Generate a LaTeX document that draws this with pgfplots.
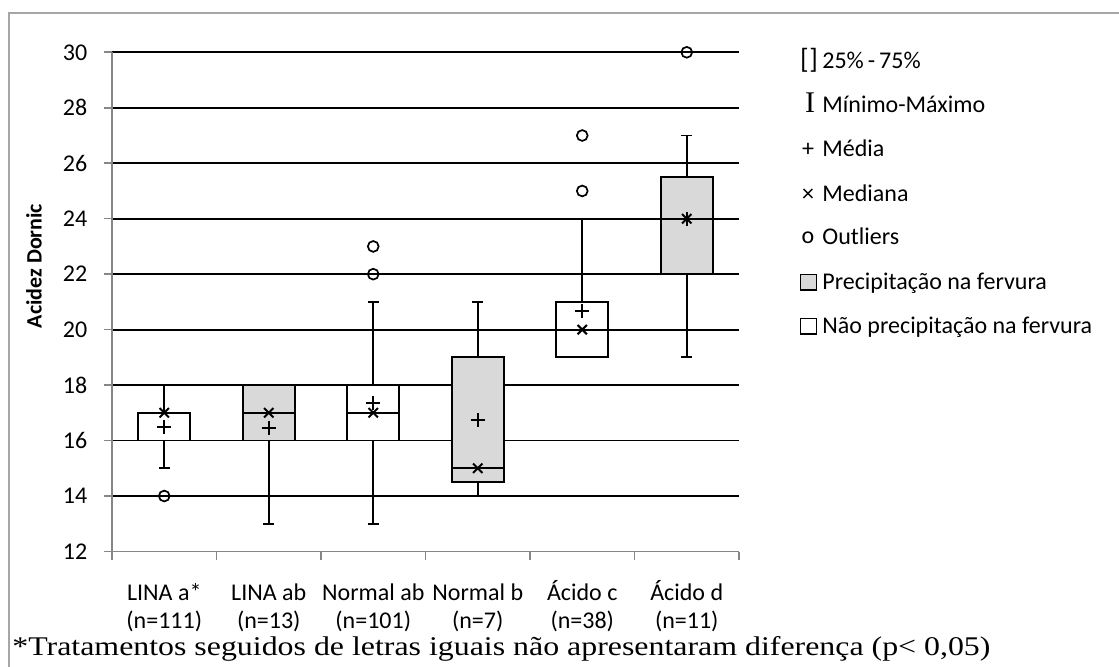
\documentclass[border=0pt]{standalone}
\usepackage{fontspec}
\setmainfont{Carlito}
\newfontfamily\timesf{Liberation Serif}
\usepackage{pgfplots}
\pgfplotsset{compat=1.18}
\definecolor{boxgray}{RGB}{217,217,217}
\definecolor{axgray}{RGB}{134,134,134}
\definecolor{framegray}{RGB}{166,166,166}
\begin{document}
\begin{tikzpicture}
\path[use as bounding box] (0,0) rectangle (559.5pt,-333.5pt);
\draw[framegray, line width=1pt] (4.25pt,-345pt) -- (4.25pt,-6.75pt) -- (570pt,-6.75pt);
\begin{axis}[
  at={(56pt,-275.75pt)}, anchor=south west,
  scale only axis, width=313.5pt, height=249.6pt,
  xmin=-0.5, xmax=5.5, ymin=12, ymax=30,
  axis x line*=bottom, axis y line*=left,
  axis line style={axgray, line width=0.8pt},
  ytick={14,16,...,30},
  extra y ticks={12},
  extra y tick style={grid=none},
  ymajorgrids, grid style={black, line width=0.9pt},
  tick align=outside,
  major tick length=4.2pt,
  tick style={axgray, line width=0.8pt},
  xtick={-0.5,0.5,...,5.5},
  xticklabels={,,,,,,},
  extra x ticks={0,1,2,3,4,5},
  extra x tick labels={{\strut LINA a*\\(n=111)},{\strut LINA ab\\(n=13)},{\strut Normal ab\\(n=101)},{\strut Normal b\\(n=7)},{\strut Ácido c\\(n=38)},{\strut Ácido d\\(n=11)}},
  extra x tick style={major tick length=0pt, tick style={draw=none}},
  /pgf/number format/assume math mode=true,
  yticklabel style={font=\fontsize{12}{14}\selectfont, inner sep=0pt, xshift=-8pt},
  xticklabel style={font=\fontsize{12}{14}\selectfont, align=center, inner sep=0pt, anchor=north, yshift=-14.3pt},
  unbounded coords=jump,
  clip=false,
]
% whiskers and caps
\addplot[black, line width=0.9pt] coordinates {
  (0,17) (0,18) (nan,nan) (-0.053,18) (0.053,18) (nan,nan)
  (0,15) (0,16) (nan,nan) (-0.053,15) (0.053,15) (nan,nan)
  (1,13) (1,16) (nan,nan) (0.947,13) (1.053,13) (nan,nan)
  (2,18) (2,21) (nan,nan) (1.947,21) (2.053,21) (nan,nan)
  (2,13) (2,16) (nan,nan) (1.947,13) (2.053,13) (nan,nan)
  (3,19) (3,21) (nan,nan) (2.947,21) (3.053,21) (nan,nan)
  (3,14) (3,14.5) (nan,nan) (2.947,14) (3.053,14) (nan,nan)
  (4,21) (4,24) (nan,nan) (3.947,24) (4.053,24) (nan,nan)
  (5,25.5) (5,27) (nan,nan) (4.947,27) (5.053,27) (nan,nan)
  (5,19) (5,22) (nan,nan) (4.947,19) (5.053,19)
};
% boxes: no precipitation (white)
\addplot[draw=black, fill=white, line width=0.9pt] coordinates {(-0.25,16) (0.25,16) (0.25,17) (-0.25,17)} -- cycle;
\addplot[draw=black, fill=white, line width=0.9pt] coordinates {(1.75,16) (2.25,16) (2.25,18) (1.75,18)} -- cycle;
\addplot[draw=black, fill=white, line width=0.9pt] coordinates {(3.75,19) (4.25,19) (4.25,21) (3.75,21)} -- cycle;
% boxes: precipitation (gray)
\addplot[draw=black, fill=boxgray, line width=0.9pt] coordinates {(0.75,16) (1.25,16) (1.25,18) (0.75,18)} -- cycle;
\addplot[draw=black, fill=boxgray, line width=0.9pt] coordinates {(2.75,14.5) (3.25,14.5) (3.25,19) (2.75,19)} -- cycle;
\addplot[draw=black, fill=boxgray, line width=0.9pt] coordinates {(4.75,22) (5.25,22) (5.25,25.5) (4.75,25.5)} -- cycle;
% median lines
\addplot[black, line width=0.9pt] coordinates {
  (-0.25,17) (0.25,17) (nan,nan) (0.75,17) (1.25,17) (nan,nan)
  (1.75,17) (2.25,17) (nan,nan) (2.75,15) (3.25,15) (nan,nan)
  (3.75,20) (4.25,20) (nan,nan) (4.75,24) (5.25,24)
};
% outliers
\addplot[only marks, mark=o, mark size=2.7pt, black, mark options={line width=0.85pt}]
  coordinates {(0,14) (2,22) (2,23) (4,25) (4,27) (5,30)};
% medians (x)
\addplot[only marks, mark=x, mark size=3.3pt, black, mark options={line width=1pt}]
  coordinates {(0,17) (1,17) (2,17) (3,15) (4,20) (5,24)};
% means (+)
\addplot[only marks, mark=+, mark size=3.5pt, black, mark options={line width=1pt}]
  coordinates {(0,16.48) (1,16.45) (2,17.35) (3,16.73) (4,20.67) (5,24)};
\end{axis}
% y label
\node[rotate=90, font=\bfseries\fontsize{11}{12}\selectfont] at (17pt,-133pt) {Acidez Dornic};
% legend
\begin{scope}[every node/.style={inner sep=0pt, font=\fontsize{12}{14}\selectfont}]
\node[anchor=base west] at (411pt,-34.5pt) {25\%\,-\,75\%};
\node[anchor=base, font=\fontsize{14}{14}\selectfont] at (404.5pt,-34.5pt) {[\kern0.3pt]};
\node[anchor=base west] at (411pt,-56.5pt) {Mínimo-Máximo};
\node[anchor=base, font=\timesf\fontsize{15}{15}\selectfont] at (405pt,-56.5pt) {I};
\node[anchor=base west] at (411pt,-78.5pt) {Média};
\node[anchor=base] at (404pt,-78.5pt) {+};
\node[anchor=base west] at (411pt,-101pt) {Mediana};
\node[anchor=base] at (404pt,-101pt) {×};
\node[anchor=base west] at (411pt,-122.5pt) {Outliers};
\node[anchor=base] at (404pt,-122.5pt) {\raisebox{0.8pt}{o}};
\node[anchor=base west] at (411pt,-145pt) {Precipitação na fervura};
\draw[black, line width=0.7pt, fill=boxgray] (400.3pt,-145pt) rectangle (408.2pt,-137.3pt);
\node[anchor=base west] at (411pt,-167pt) {Não precipitação na fervura};
\draw[black, line width=0.7pt, fill=white] (400.3pt,-167pt) rectangle (408.2pt,-159.3pt);
\end{scope}
% footnote
\node[anchor=base west, inner sep=0pt] at (6pt,-327.5pt) {\resizebox{489pt}{\height}{\timesf\fontsize{13.5}{16}\selectfont *Tratamentos seguidos de letras iguais não apresentaram diferença (p< 0,05)}};
\end{tikzpicture}
\end{document}
